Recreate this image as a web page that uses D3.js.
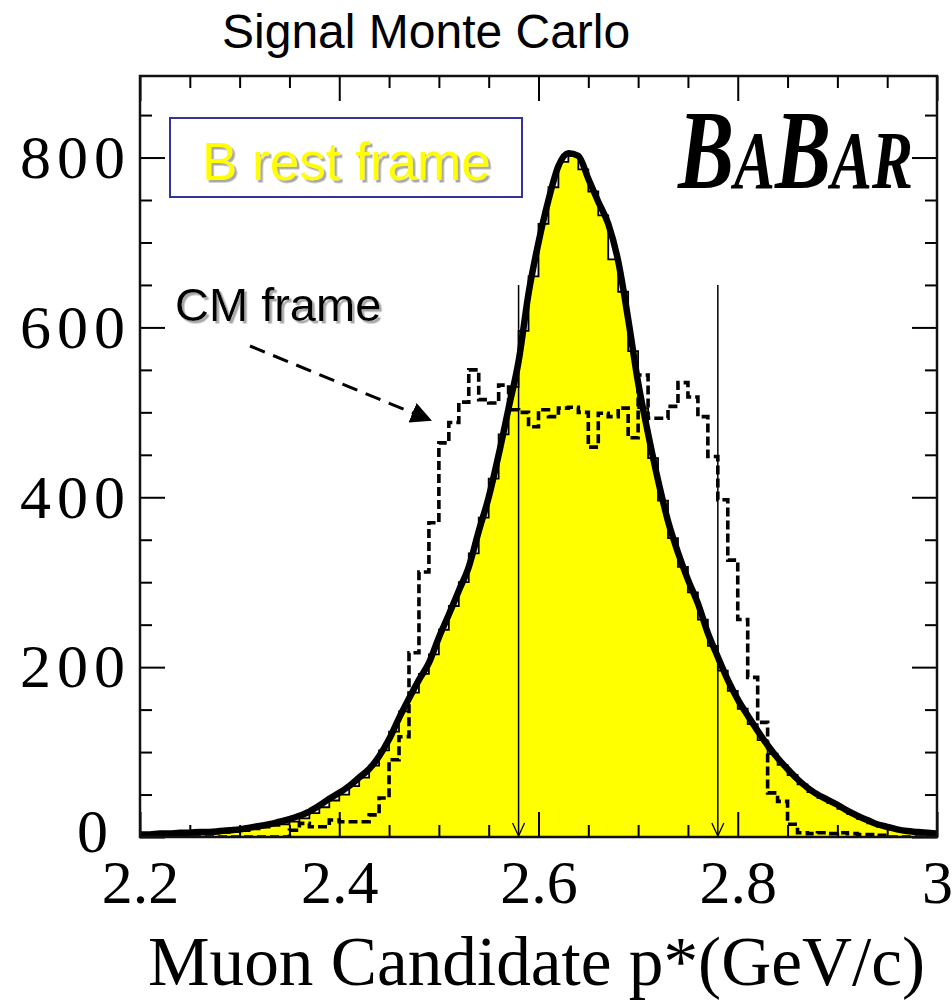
<!DOCTYPE html>
<html>
<head>
<meta charset="utf-8">
<script src="https://cdn.jsdelivr.net/npm/d3@7"></script>
<style>
  html, body { margin: 0; padding: 0; background: #fff; }
  svg { display: block; }
</style>
</head>
<body>
<div id="chart"></div>
<script>
// 80 bins of 0.01 GeV/c between 2.20 and 3.00
const binLow = 2.20;
const binWidth = 0.01;

// B rest frame, yellow filled histogram
const bRestCounts = [
  0, 1, 1, 2, 2, 3, 3, 4, 5, 6,
  7, 9, 11, 13, 15, 18, 22, 28, 35, 43,
  50, 60, 70, 84, 102, 124, 148, 170, 192, 215,
  244, 272, 300, 334, 376, 422, 474, 530, 596, 660,
  722, 765, 795, 802, 786, 760, 732, 680, 642, 572,
  505, 446, 396, 352, 318, 288, 256, 225, 196, 172,
  151, 133, 114, 98, 85, 73, 62, 53, 46, 40,
  33, 27, 21, 16, 12, 9, 7, 5, 4, 3
];

// CM frame, dashed histogram
const cmCounts = [
  0, 0, 0, 0, 0, 0, 0, 0, 0, 0,
  0, 0, 0, 0, 0, 8, 16, 12, 12, 20,
  18, 18, 18, 26, 46, 91, 118, 217, 312, 370,
  464, 488, 512, 550, 515, 511, 532, 503, 500, 483,
  503, 495, 505, 506, 500, 459, 499, 495, 505, 470,
  544, 493, 493, 507, 535, 518, 495, 448, 397, 326,
  256, 188, 135, 52, 42, 15, 5, 4, 5, 4,
  5, 4, 3, 3, 2, 0, 0, 0, 0, 0
];

// smooth curve, one value at each bin edge 2.20 ... 3.00
const fitValues = [
  3, 3, 4, 4, 5, 5, 6, 6, 7, 8,
  9, 11, 13, 15, 18, 21, 25, 30, 37, 45,
  52, 60, 70, 80, 95, 115, 140, 163, 185, 205,
  235, 262, 290, 318, 360, 400, 450, 505, 560, 640,
  700, 750, 790, 805, 802, 775, 748, 722, 678, 610,
  535, 475, 420, 372, 335, 303, 275, 240, 212, 185,
  162, 143, 125, 108, 93, 80, 68, 58, 50, 44,
  38, 31, 25, 20, 15, 12, 9, 7, 6, 5, 4
];

// selection cuts
const cutValues = [2.58, 2.78];
const cutHeight = 650;

const xMajorTicks = [2.2, 2.4, 2.6, 2.8, 3.0];
const xTickLabels = ["2.2", "2.4", "2.6", "2.8", "3"];
const xMinorTicks = [2.25, 2.3, 2.35, 2.45, 2.5, 2.55, 2.65, 2.7, 2.75, 2.85, 2.9, 2.95];
const yMajorTicks = [0, 200, 400, 600, 800];
const yTickLabels = ["0", "200", "400", "600", "800"];
const yMinorTicks = [50, 100, 150, 250, 300, 350, 450, 500, 550, 650, 700, 750, 850];

const width = 952, height = 1001;
const plotLeft = 140, plotRight = 937, plotTop = 76, plotBottom = 837;

const svg = d3.select("#chart")
  .append("svg")
  .attr("width", width)
  .attr("height", height);

const x = d3.scaleLinear().domain([2.2, 3.0]).range([plotLeft, plotRight]);
const y = d3.scaleLinear().domain([0, 896]).range([plotBottom, plotTop]);

const defs = svg.append("defs");

defs.append("clipPath").attr("id", "plotClip")
  .append("rect")
  .attr("x", plotLeft).attr("y", plotTop)
  .attr("width", plotRight - plotLeft).attr("height", plotBottom - plotTop);

// grey drop shadow behind the labels
defs.append("filter")
  .attr("id", "shadow")
  .attr("x", "-5%").attr("y", "-10%")
  .attr("width", "115%").attr("height", "130%")
  .append("feDropShadow")
  .attr("dx", 2.5).attr("dy", 2.5)
  .attr("stdDeviation", 0.6)
  .attr("flood-color", "#a8a8a8")
  .attr("flood-opacity", 1);

const plot = svg.append("g").attr("clip-path", "url(#plotClip)");

function toSteps(counts) {
  const pts = counts.map((c, i) => ({ x: binLow + i * binWidth, v: c }));
  pts.push({ x: binLow + counts.length * binWidth, v: counts[counts.length - 1] });
  return pts;
}

// yellow histogram
const area = d3.area()
  .curve(d3.curveStepAfter)
  .x(d => x(d.x))
  .y0(y(0))
  .y1(d => y(d.v));

plot.append("path")
  .datum(toSteps(bRestCounts))
  .attr("d", area)
  .attr("fill", "#ffff00")
  .attr("stroke", "#000")
  .attr("stroke-width", 1.8);

// dashed CM histogram
const stepLine = d3.line()
  .curve(d3.curveStepAfter)
  .x(d => x(d.x))
  .y(d => y(d.v));

plot.append("path")
  .datum(toSteps(cmCounts))
  .attr("d", stepLine)
  .attr("fill", "none")
  .attr("stroke", "#000")
  .attr("stroke-width", 3.6)
  .attr("stroke-dasharray", "9,4");

// thick curve
const curve = d3.line()
  .curve(d3.curveMonotoneX)
  .x((d, i) => x(binLow + i * binWidth))
  .y(d => y(d));

plot.append("path")
  .datum(fitValues)
  .attr("d", curve)
  .attr("fill", "none")
  .attr("stroke", "#000")
  .attr("stroke-width", 6.5)
  .attr("stroke-linejoin", "round");

// cut lines with arrows
cutValues.forEach(c => {
  plot.append("line")
    .attr("x1", x(c)).attr("x2", x(c))
    .attr("y1", y(cutHeight)).attr("y2", y(0))
    .attr("stroke", "#000")
    .attr("stroke-width", 1.5);
  plot.append("path")
    .attr("d", `M${x(c) - 6},${y(0) - 14}L${x(c)},${y(0) - 1}L${x(c) + 6},${y(0) - 14}`)
    .attr("fill", "none")
    .attr("stroke", "#000")
    .attr("stroke-width", 1.3);
});

// axes, ticks pointing inwards
const axisStyle = g => {
  g.select(".domain").remove();
  g.selectAll("line").attr("stroke", "#000").attr("stroke-width", 2);
};

svg.append("g")
  .attr("transform", `translate(0,${plotBottom})`)
  .call(d3.axisBottom(x).tickValues(xMinorTicks).tickSizeInner(-12).tickSizeOuter(0).tickFormat(""))
  .call(axisStyle);

svg.append("g")
  .attr("transform", `translate(0,${plotBottom})`)
  .call(d3.axisBottom(x).tickValues(xMajorTicks).tickSizeInner(-25).tickSizeOuter(0)
    .tickPadding(22).tickFormat((d, i) => xTickLabels[i]))
  .call(axisStyle)
  .selectAll("text")
  .attr("fill", "#000")
  .attr("dy", "0.71em")
  .style("font-family", "'Liberation Serif', 'Times New Roman', serif")
  .style("font-size", "62px");

svg.append("g")
  .attr("transform", `translate(0,${plotTop})`)
  .call(d3.axisTop(x).tickValues(xMinorTicks).tickSizeInner(-12).tickSizeOuter(0).tickFormat(""))
  .call(axisStyle);

svg.append("g")
  .attr("transform", `translate(0,${plotTop})`)
  .call(d3.axisTop(x).tickValues(xMajorTicks).tickSizeInner(-25).tickSizeOuter(0).tickFormat(""))
  .call(axisStyle);

svg.append("g")
  .attr("transform", `translate(${plotLeft},0)`)
  .call(d3.axisLeft(y).tickValues(yMinorTicks).tickSizeInner(-12).tickSizeOuter(0).tickFormat(""))
  .call(axisStyle);

svg.append("g")
  .attr("transform", `translate(${plotLeft},0)`)
  .call(d3.axisLeft(y).tickValues(yMajorTicks).tickSizeInner(-25).tickSizeOuter(0)
    .tickPadding(9).tickFormat((d, i) => yTickLabels[i]))
  .call(axisStyle)
  .selectAll("text")
  .attr("fill", "#000")
  .attr("dx", d => d === 0 ? -17 : 0)
  .attr("dy", d => d === 0 ? "0.24em" : "0.32em")
  .style("letter-spacing", "6px")
  .style("font-family", "'Liberation Serif', 'Times New Roman', serif")
  .style("font-size", "62px");

svg.append("g")
  .attr("transform", `translate(${plotRight},0)`)
  .call(d3.axisRight(y).tickValues(yMinorTicks).tickSizeInner(-12).tickSizeOuter(0).tickFormat(""))
  .call(axisStyle);

svg.append("g")
  .attr("transform", `translate(${plotRight},0)`)
  .call(d3.axisRight(y).tickValues(yMajorTicks).tickSizeInner(-25).tickSizeOuter(0).tickFormat(""))
  .call(axisStyle);

// frame
svg.append("rect")
  .attr("x", plotLeft).attr("y", plotTop)
  .attr("width", plotRight - plotLeft).attr("height", plotBottom - plotTop)
  .attr("fill", "none")
  .attr("stroke", "#111")
  .attr("stroke-width", 2.5);

// axis title
svg.append("text")
  .attr("x", 148).attr("y", 985)
  .attr("textLength", 777)
  .attr("lengthAdjust", "spacingAndGlyphs")
  .style("font-family", "'Liberation Serif', 'Times New Roman', serif")
  .style("font-size", "70px")
  .text("Muon Candidate p*(GeV/c)");

// chart title
svg.append("text")
  .attr("x", 222).attr("y", 48)
  .style("font-family", "'Liberation Sans', Arial, sans-serif")
  .style("font-size", "48px")
  .text("Signal Monte Carlo");

// B rest frame label box
svg.append("rect")
  .attr("x", 170).attr("y", 118)
  .attr("width", 352).attr("height", 79)
  .attr("fill", "#fff")
  .attr("stroke", "#333399")
  .attr("stroke-width", 2);

svg.append("text")
  .attr("x", 202).attr("y", 180)
  .attr("fill", "#ffff00")
  .attr("filter", "url(#shadow)")
  .style("font-family", "'Liberation Sans', Arial, sans-serif")
  .style("font-size", "53px")
  .text("B rest frame");

// CM frame label and dashed arrow
svg.append("text")
  .attr("x", 175).attr("y", 321)
  .attr("fill", "#000")
  .attr("filter", "url(#shadow)")
  .style("font-family", "'Liberation Sans', Arial, sans-serif")
  .style("font-size", "47px")
  .text("CM frame");

defs.append("marker")
  .attr("id", "arrowHead")
  .attr("viewBox", "0 0 10 10")
  .attr("refX", 9).attr("refY", 5)
  .attr("markerWidth", 7).attr("markerHeight", 7)
  .attr("markerUnits", "strokeWidth")
  .attr("orient", "auto")
  .append("path")
  .attr("d", "M0,0L10,5L0,10z")
  .attr("fill", "#000");

svg.append("line")
  .attr("x1", 250).attr("y1", 346)
  .attr("x2", 430).attr("y2", 420)
  .attr("stroke", "#000")
  .attr("stroke-width", 3)
  .attr("stroke-dasharray", "16,9")
  .attr("marker-end", "url(#arrowHead)");

// BABAR logo, squeezed horizontally
const logo = svg.append("text")
  .attr("transform", "translate(678,188) scale(0.75,1)")
  .style("font-family", "'Liberation Serif', 'Times New Roman', serif")
  .style("font-weight", "bold")
  .style("font-style", "italic");
[["B", 112], ["A", 82], ["B", 112], ["A", 82], ["R", 82]].forEach(([ch, sz]) => {
  logo.append("tspan").style("font-size", sz + "px").text(ch);
});
</script>
</body>
</html>
